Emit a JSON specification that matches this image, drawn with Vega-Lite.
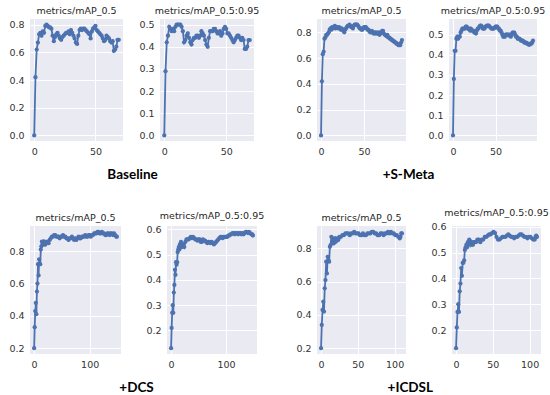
{
  "$schema": "https://vega.github.io/schema/vega-lite/v6.json",
  "background": "white",
  "padding": {"left": 5, "top": 5, "right": 5, "bottom": 1},
  "config": {
    "view": {"fill": "#EAEAF2", "stroke": null},
    "axis": {"domain": false, "ticks": false, "gridColor": "white", "gridWidth": 1, "labelFont": "DejaVu Sans", "labelFontSize": 9.5, "labelColor": "#333333", "title": null},
    "axisX": {"labelPadding": 5},
    "axisY": {"labelPadding": 6},
    "title": {"font": "DejaVu Sans", "fontSize": 9.5, "fontWeight": "normal", "color": "#262626", "offset": 4}
  },
  "datasets": {
    "b50": [{"epoch":0,"v":0.0},{"epoch":1,"v":0.42},{"epoch":2,"v":0.62},{"epoch":3,"v":0.67},{"epoch":4,"v":0.73},{"epoch":5,"v":0.74},{"epoch":6,"v":0.72},{"epoch":7,"v":0.75},{"epoch":8,"v":0.74},{"epoch":9,"v":0.79},{"epoch":10,"v":0.8},{"epoch":11,"v":0.79},{"epoch":12,"v":0.78},{"epoch":13,"v":0.78},{"epoch":14,"v":0.77},{"epoch":15,"v":0.72},{"epoch":16,"v":0.68},{"epoch":17,"v":0.71},{"epoch":18,"v":0.73},{"epoch":19,"v":0.74},{"epoch":20,"v":0.72},{"epoch":21,"v":0.7},{"epoch":22,"v":0.69},{"epoch":23,"v":0.71},{"epoch":24,"v":0.72},{"epoch":25,"v":0.73},{"epoch":26,"v":0.74},{"epoch":27,"v":0.74},{"epoch":28,"v":0.75},{"epoch":29,"v":0.73},{"epoch":30,"v":0.76},{"epoch":31,"v":0.74},{"epoch":32,"v":0.72},{"epoch":33,"v":0.7},{"epoch":34,"v":0.67},{"epoch":35,"v":0.66},{"epoch":36,"v":0.72},{"epoch":37,"v":0.76},{"epoch":38,"v":0.77},{"epoch":39,"v":0.76},{"epoch":40,"v":0.77},{"epoch":41,"v":0.77},{"epoch":42,"v":0.76},{"epoch":43,"v":0.75},{"epoch":44,"v":0.74},{"epoch":45,"v":0.73},{"epoch":46,"v":0.7},{"epoch":47,"v":0.75},{"epoch":48,"v":0.77},{"epoch":49,"v":0.78},{"epoch":50,"v":0.79},{"epoch":51,"v":0.76},{"epoch":52,"v":0.75},{"epoch":53,"v":0.74},{"epoch":54,"v":0.73},{"epoch":55,"v":0.72},{"epoch":56,"v":0.7},{"epoch":57,"v":0.68},{"epoch":58,"v":0.69},{"epoch":59,"v":0.72},{"epoch":60,"v":0.71},{"epoch":61,"v":0.7},{"epoch":62,"v":0.68},{"epoch":63,"v":0.67},{"epoch":64,"v":0.68},{"epoch":65,"v":0.61},{"epoch":66,"v":0.62},{"epoch":67,"v":0.64},{"epoch":68,"v":0.69},{"epoch":69,"v":0.69}],
    "b95": [{"epoch":0,"v":0.0},{"epoch":1,"v":0.29},{"epoch":2,"v":0.42},{"epoch":3,"v":0.45},{"epoch":4,"v":0.49},{"epoch":5,"v":0.48},{"epoch":6,"v":0.47},{"epoch":7,"v":0.48},{"epoch":8,"v":0.47},{"epoch":9,"v":0.49},{"epoch":10,"v":0.5},{"epoch":11,"v":0.5},{"epoch":12,"v":0.5},{"epoch":13,"v":0.5},{"epoch":14,"v":0.49},{"epoch":15,"v":0.47},{"epoch":16,"v":0.42},{"epoch":17,"v":0.43},{"epoch":18,"v":0.45},{"epoch":19,"v":0.46},{"epoch":20,"v":0.44},{"epoch":21,"v":0.42},{"epoch":22,"v":0.41},{"epoch":23,"v":0.43},{"epoch":24,"v":0.44},{"epoch":25,"v":0.44},{"epoch":26,"v":0.45},{"epoch":27,"v":0.45},{"epoch":28,"v":0.44},{"epoch":29,"v":0.45},{"epoch":30,"v":0.47},{"epoch":31,"v":0.46},{"epoch":32,"v":0.45},{"epoch":33,"v":0.43},{"epoch":34,"v":0.41},{"epoch":35,"v":0.4},{"epoch":36,"v":0.44},{"epoch":37,"v":0.47},{"epoch":38,"v":0.47},{"epoch":39,"v":0.47},{"epoch":40,"v":0.48},{"epoch":41,"v":0.48},{"epoch":42,"v":0.47},{"epoch":43,"v":0.46},{"epoch":44,"v":0.46},{"epoch":45,"v":0.47},{"epoch":46,"v":0.45},{"epoch":47,"v":0.46},{"epoch":48,"v":0.48},{"epoch":49,"v":0.49},{"epoch":50,"v":0.48},{"epoch":51,"v":0.46},{"epoch":52,"v":0.46},{"epoch":53,"v":0.45},{"epoch":54,"v":0.44},{"epoch":55,"v":0.43},{"epoch":56,"v":0.42},{"epoch":57,"v":0.43},{"epoch":58,"v":0.44},{"epoch":59,"v":0.45},{"epoch":60,"v":0.45},{"epoch":61,"v":0.44},{"epoch":62,"v":0.43},{"epoch":63,"v":0.44},{"epoch":64,"v":0.43},{"epoch":65,"v":0.39},{"epoch":66,"v":0.39},{"epoch":67,"v":0.4},{"epoch":68,"v":0.43},{"epoch":69,"v":0.43}],
    "s50": [{"epoch":0,"v":0.0},{"epoch":1,"v":0.42},{"epoch":2,"v":0.63},{"epoch":3,"v":0.65},{"epoch":4,"v":0.75},{"epoch":5,"v":0.76},{"epoch":6,"v":0.78},{"epoch":7,"v":0.78},{"epoch":8,"v":0.79},{"epoch":9,"v":0.8},{"epoch":10,"v":0.82},{"epoch":11,"v":0.83},{"epoch":12,"v":0.82},{"epoch":13,"v":0.84},{"epoch":14,"v":0.83},{"epoch":15,"v":0.84},{"epoch":16,"v":0.85},{"epoch":17,"v":0.83},{"epoch":18,"v":0.84},{"epoch":19,"v":0.84},{"epoch":20,"v":0.83},{"epoch":21,"v":0.84},{"epoch":22,"v":0.83},{"epoch":23,"v":0.82},{"epoch":24,"v":0.83},{"epoch":25,"v":0.82},{"epoch":26,"v":0.81},{"epoch":27,"v":0.8},{"epoch":28,"v":0.82},{"epoch":29,"v":0.83},{"epoch":30,"v":0.84},{"epoch":31,"v":0.85},{"epoch":32,"v":0.85},{"epoch":33,"v":0.86},{"epoch":34,"v":0.85},{"epoch":35,"v":0.84},{"epoch":36,"v":0.84},{"epoch":37,"v":0.83},{"epoch":38,"v":0.85},{"epoch":39,"v":0.86},{"epoch":40,"v":0.86},{"epoch":41,"v":0.86},{"epoch":42,"v":0.86},{"epoch":43,"v":0.85},{"epoch":44,"v":0.84},{"epoch":45,"v":0.83},{"epoch":46,"v":0.83},{"epoch":47,"v":0.82},{"epoch":48,"v":0.82},{"epoch":49,"v":0.83},{"epoch":50,"v":0.84},{"epoch":51,"v":0.84},{"epoch":52,"v":0.84},{"epoch":53,"v":0.83},{"epoch":54,"v":0.82},{"epoch":55,"v":0.82},{"epoch":56,"v":0.81},{"epoch":57,"v":0.8},{"epoch":58,"v":0.8},{"epoch":59,"v":0.81},{"epoch":60,"v":0.8},{"epoch":61,"v":0.79},{"epoch":62,"v":0.8},{"epoch":63,"v":0.79},{"epoch":64,"v":0.8},{"epoch":65,"v":0.79},{"epoch":66,"v":0.79},{"epoch":67,"v":0.8},{"epoch":68,"v":0.78},{"epoch":69,"v":0.79},{"epoch":70,"v":0.8},{"epoch":71,"v":0.81},{"epoch":72,"v":0.81},{"epoch":73,"v":0.79},{"epoch":74,"v":0.78},{"epoch":75,"v":0.78},{"epoch":76,"v":0.77},{"epoch":77,"v":0.78},{"epoch":78,"v":0.76},{"epoch":79,"v":0.76},{"epoch":80,"v":0.75},{"epoch":81,"v":0.75},{"epoch":82,"v":0.74},{"epoch":83,"v":0.74},{"epoch":84,"v":0.73},{"epoch":85,"v":0.73},{"epoch":86,"v":0.72},{"epoch":87,"v":0.72},{"epoch":88,"v":0.71},{"epoch":89,"v":0.71},{"epoch":90,"v":0.7},{"epoch":91,"v":0.7},{"epoch":92,"v":0.7},{"epoch":93,"v":0.72},{"epoch":94,"v":0.74}],
    "s95": [{"epoch":0,"v":0.0},{"epoch":1,"v":0.28},{"epoch":2,"v":0.42},{"epoch":3,"v":0.42},{"epoch":4,"v":0.48},{"epoch":5,"v":0.49},{"epoch":6,"v":0.48},{"epoch":7,"v":0.49},{"epoch":8,"v":0.49},{"epoch":9,"v":0.51},{"epoch":10,"v":0.52},{"epoch":11,"v":0.53},{"epoch":12,"v":0.53},{"epoch":13,"v":0.53},{"epoch":14,"v":0.53},{"epoch":15,"v":0.54},{"epoch":16,"v":0.54},{"epoch":17,"v":0.53},{"epoch":18,"v":0.53},{"epoch":19,"v":0.53},{"epoch":20,"v":0.52},{"epoch":21,"v":0.53},{"epoch":22,"v":0.52},{"epoch":23,"v":0.52},{"epoch":24,"v":0.52},{"epoch":25,"v":0.51},{"epoch":26,"v":0.51},{"epoch":27,"v":0.505},{"epoch":28,"v":0.52},{"epoch":29,"v":0.53},{"epoch":30,"v":0.53},{"epoch":31,"v":0.54},{"epoch":32,"v":0.545},{"epoch":33,"v":0.545},{"epoch":34,"v":0.54},{"epoch":35,"v":0.53},{"epoch":36,"v":0.53},{"epoch":37,"v":0.53},{"epoch":38,"v":0.54},{"epoch":39,"v":0.54},{"epoch":40,"v":0.545},{"epoch":41,"v":0.545},{"epoch":42,"v":0.545},{"epoch":43,"v":0.54},{"epoch":44,"v":0.535},{"epoch":45,"v":0.53},{"epoch":46,"v":0.53},{"epoch":47,"v":0.53},{"epoch":48,"v":0.53},{"epoch":49,"v":0.535},{"epoch":50,"v":0.54},{"epoch":51,"v":0.54},{"epoch":52,"v":0.54},{"epoch":53,"v":0.53},{"epoch":54,"v":0.53},{"epoch":55,"v":0.52},{"epoch":56,"v":0.52},{"epoch":57,"v":0.51},{"epoch":58,"v":0.5},{"epoch":59,"v":0.49},{"epoch":60,"v":0.49},{"epoch":61,"v":0.49},{"epoch":62,"v":0.5},{"epoch":63,"v":0.5},{"epoch":64,"v":0.5},{"epoch":65,"v":0.5},{"epoch":66,"v":0.495},{"epoch":67,"v":0.5},{"epoch":68,"v":0.49},{"epoch":69,"v":0.5},{"epoch":70,"v":0.51},{"epoch":71,"v":0.51},{"epoch":72,"v":0.51},{"epoch":73,"v":0.5},{"epoch":74,"v":0.49},{"epoch":75,"v":0.49},{"epoch":76,"v":0.48},{"epoch":77,"v":0.48},{"epoch":78,"v":0.48},{"epoch":79,"v":0.475},{"epoch":80,"v":0.47},{"epoch":81,"v":0.47},{"epoch":82,"v":0.47},{"epoch":83,"v":0.465},{"epoch":84,"v":0.46},{"epoch":85,"v":0.46},{"epoch":86,"v":0.46},{"epoch":87,"v":0.455},{"epoch":88,"v":0.455},{"epoch":89,"v":0.45},{"epoch":90,"v":0.45},{"epoch":91,"v":0.455},{"epoch":92,"v":0.455},{"epoch":93,"v":0.46},{"epoch":94,"v":0.47}],
    "d50": [{"epoch":0,"v":0.2},{"epoch":1,"v":0.33},{"epoch":2,"v":0.43},{"epoch":3,"v":0.48},{"epoch":4,"v":0.41},{"epoch":5,"v":0.55},{"epoch":6,"v":0.6},{"epoch":7,"v":0.72},{"epoch":8,"v":0.65},{"epoch":9,"v":0.75},{"epoch":10,"v":0.72},{"epoch":11,"v":0.72},{"epoch":12,"v":0.81},{"epoch":13,"v":0.83},{"epoch":14,"v":0.86},{"epoch":15,"v":0.84},{"epoch":16,"v":0.85},{"epoch":17,"v":0.86},{"epoch":18,"v":0.85},{"epoch":19,"v":0.86},{"epoch":20,"v":0.84},{"epoch":22,"v":0.85},{"epoch":24,"v":0.86},{"epoch":26,"v":0.85},{"epoch":28,"v":0.87},{"epoch":30,"v":0.88},{"epoch":32,"v":0.89},{"epoch":34,"v":0.89},{"epoch":36,"v":0.9},{"epoch":38,"v":0.9},{"epoch":40,"v":0.89},{"epoch":42,"v":0.89},{"epoch":44,"v":0.89},{"epoch":46,"v":0.88},{"epoch":48,"v":0.89},{"epoch":50,"v":0.89},{"epoch":52,"v":0.9},{"epoch":54,"v":0.89},{"epoch":56,"v":0.89},{"epoch":58,"v":0.88},{"epoch":60,"v":0.88},{"epoch":62,"v":0.87},{"epoch":64,"v":0.88},{"epoch":66,"v":0.88},{"epoch":68,"v":0.89},{"epoch":70,"v":0.88},{"epoch":72,"v":0.87},{"epoch":74,"v":0.88},{"epoch":76,"v":0.87},{"epoch":78,"v":0.88},{"epoch":80,"v":0.89},{"epoch":82,"v":0.88},{"epoch":84,"v":0.88},{"epoch":86,"v":0.89},{"epoch":88,"v":0.89},{"epoch":90,"v":0.89},{"epoch":92,"v":0.9},{"epoch":94,"v":0.89},{"epoch":96,"v":0.89},{"epoch":98,"v":0.9},{"epoch":100,"v":0.9},{"epoch":102,"v":0.89},{"epoch":104,"v":0.9},{"epoch":106,"v":0.9},{"epoch":108,"v":0.91},{"epoch":110,"v":0.91},{"epoch":112,"v":0.91},{"epoch":114,"v":0.92},{"epoch":116,"v":0.92},{"epoch":118,"v":0.91},{"epoch":120,"v":0.91},{"epoch":122,"v":0.92},{"epoch":124,"v":0.91},{"epoch":126,"v":0.91},{"epoch":128,"v":0.9},{"epoch":130,"v":0.9},{"epoch":132,"v":0.91},{"epoch":134,"v":0.91},{"epoch":136,"v":0.9},{"epoch":138,"v":0.91},{"epoch":140,"v":0.91},{"epoch":142,"v":0.9},{"epoch":144,"v":0.91},{"epoch":146,"v":0.9},{"epoch":148,"v":0.89},{"epoch":149,"v":0.89}],
    "d95": [{"epoch":0,"v":0.13},{"epoch":1,"v":0.21},{"epoch":2,"v":0.27},{"epoch":3,"v":0.3},{"epoch":4,"v":0.27},{"epoch":5,"v":0.35},{"epoch":6,"v":0.38},{"epoch":7,"v":0.44},{"epoch":8,"v":0.42},{"epoch":9,"v":0.47},{"epoch":10,"v":0.46},{"epoch":11,"v":0.47},{"epoch":12,"v":0.51},{"epoch":13,"v":0.52},{"epoch":14,"v":0.53},{"epoch":15,"v":0.52},{"epoch":16,"v":0.54},{"epoch":17,"v":0.53},{"epoch":18,"v":0.55},{"epoch":19,"v":0.54},{"epoch":20,"v":0.53},{"epoch":22,"v":0.54},{"epoch":24,"v":0.53},{"epoch":26,"v":0.55},{"epoch":28,"v":0.56},{"epoch":30,"v":0.56},{"epoch":32,"v":0.56},{"epoch":34,"v":0.565},{"epoch":36,"v":0.57},{"epoch":38,"v":0.565},{"epoch":40,"v":0.57},{"epoch":42,"v":0.565},{"epoch":44,"v":0.56},{"epoch":46,"v":0.56},{"epoch":48,"v":0.555},{"epoch":50,"v":0.56},{"epoch":52,"v":0.56},{"epoch":54,"v":0.55},{"epoch":56,"v":0.55},{"epoch":58,"v":0.56},{"epoch":60,"v":0.555},{"epoch":62,"v":0.555},{"epoch":64,"v":0.55},{"epoch":66,"v":0.545},{"epoch":68,"v":0.55},{"epoch":70,"v":0.55},{"epoch":72,"v":0.545},{"epoch":74,"v":0.55},{"epoch":76,"v":0.545},{"epoch":78,"v":0.54},{"epoch":80,"v":0.545},{"epoch":82,"v":0.55},{"epoch":84,"v":0.555},{"epoch":86,"v":0.56},{"epoch":88,"v":0.565},{"epoch":90,"v":0.57},{"epoch":92,"v":0.57},{"epoch":94,"v":0.565},{"epoch":96,"v":0.57},{"epoch":98,"v":0.57},{"epoch":100,"v":0.57},{"epoch":102,"v":0.57},{"epoch":104,"v":0.575},{"epoch":106,"v":0.575},{"epoch":108,"v":0.58},{"epoch":110,"v":0.58},{"epoch":112,"v":0.585},{"epoch":114,"v":0.585},{"epoch":116,"v":0.58},{"epoch":118,"v":0.585},{"epoch":120,"v":0.585},{"epoch":122,"v":0.58},{"epoch":124,"v":0.585},{"epoch":126,"v":0.585},{"epoch":128,"v":0.58},{"epoch":130,"v":0.585},{"epoch":132,"v":0.58},{"epoch":134,"v":0.585},{"epoch":136,"v":0.59},{"epoch":138,"v":0.59},{"epoch":140,"v":0.585},{"epoch":142,"v":0.59},{"epoch":144,"v":0.585},{"epoch":146,"v":0.58},{"epoch":148,"v":0.58},{"epoch":149,"v":0.575}],
    "i50": [{"epoch":0,"v":0.2},{"epoch":1,"v":0.34},{"epoch":2,"v":0.43},{"epoch":3,"v":0.48},{"epoch":4,"v":0.42},{"epoch":5,"v":0.56},{"epoch":6,"v":0.61},{"epoch":7,"v":0.72},{"epoch":8,"v":0.65},{"epoch":9,"v":0.75},{"epoch":10,"v":0.73},{"epoch":11,"v":0.72},{"epoch":12,"v":0.81},{"epoch":13,"v":0.82},{"epoch":14,"v":0.87},{"epoch":15,"v":0.84},{"epoch":16,"v":0.86},{"epoch":17,"v":0.83},{"epoch":18,"v":0.85},{"epoch":19,"v":0.86},{"epoch":20,"v":0.84},{"epoch":21,"v":0.85},{"epoch":22,"v":0.86},{"epoch":23,"v":0.85},{"epoch":24,"v":0.86},{"epoch":25,"v":0.87},{"epoch":27,"v":0.87},{"epoch":29,"v":0.88},{"epoch":31,"v":0.88},{"epoch":33,"v":0.89},{"epoch":35,"v":0.89},{"epoch":37,"v":0.89},{"epoch":39,"v":0.88},{"epoch":41,"v":0.89},{"epoch":43,"v":0.89},{"epoch":45,"v":0.9},{"epoch":47,"v":0.89},{"epoch":49,"v":0.89},{"epoch":51,"v":0.89},{"epoch":53,"v":0.88},{"epoch":55,"v":0.88},{"epoch":57,"v":0.89},{"epoch":59,"v":0.88},{"epoch":61,"v":0.88},{"epoch":63,"v":0.89},{"epoch":65,"v":0.89},{"epoch":67,"v":0.89},{"epoch":69,"v":0.9},{"epoch":71,"v":0.9},{"epoch":73,"v":0.89},{"epoch":75,"v":0.89},{"epoch":77,"v":0.88},{"epoch":79,"v":0.88},{"epoch":81,"v":0.89},{"epoch":83,"v":0.89},{"epoch":85,"v":0.88},{"epoch":87,"v":0.89},{"epoch":89,"v":0.89},{"epoch":91,"v":0.9},{"epoch":93,"v":0.89},{"epoch":95,"v":0.9},{"epoch":97,"v":0.89},{"epoch":99,"v":0.89},{"epoch":101,"v":0.88},{"epoch":103,"v":0.88},{"epoch":105,"v":0.87},{"epoch":107,"v":0.86},{"epoch":108,"v":0.87},{"epoch":109,"v":0.89},{"epoch":110,"v":0.89}],
    "i95": [{"epoch":0,"v":0.13},{"epoch":1,"v":0.21},{"epoch":2,"v":0.27},{"epoch":3,"v":0.3},{"epoch":4,"v":0.27},{"epoch":5,"v":0.35},{"epoch":6,"v":0.38},{"epoch":7,"v":0.44},{"epoch":8,"v":0.41},{"epoch":9,"v":0.46},{"epoch":10,"v":0.46},{"epoch":11,"v":0.47},{"epoch":12,"v":0.51},{"epoch":13,"v":0.52},{"epoch":14,"v":0.53},{"epoch":15,"v":0.52},{"epoch":16,"v":0.54},{"epoch":17,"v":0.53},{"epoch":18,"v":0.55},{"epoch":19,"v":0.54},{"epoch":20,"v":0.53},{"epoch":21,"v":0.54},{"epoch":22,"v":0.53},{"epoch":23,"v":0.53},{"epoch":24,"v":0.54},{"epoch":25,"v":0.54},{"epoch":27,"v":0.54},{"epoch":29,"v":0.55},{"epoch":31,"v":0.55},{"epoch":33,"v":0.54},{"epoch":35,"v":0.55},{"epoch":37,"v":0.55},{"epoch":39,"v":0.56},{"epoch":41,"v":0.56},{"epoch":43,"v":0.565},{"epoch":45,"v":0.57},{"epoch":47,"v":0.57},{"epoch":49,"v":0.575},{"epoch":51,"v":0.58},{"epoch":53,"v":0.575},{"epoch":55,"v":0.56},{"epoch":57,"v":0.55},{"epoch":59,"v":0.55},{"epoch":61,"v":0.555},{"epoch":63,"v":0.56},{"epoch":65,"v":0.56},{"epoch":67,"v":0.56},{"epoch":69,"v":0.565},{"epoch":71,"v":0.57},{"epoch":73,"v":0.565},{"epoch":75,"v":0.56},{"epoch":77,"v":0.56},{"epoch":79,"v":0.555},{"epoch":81,"v":0.56},{"epoch":83,"v":0.56},{"epoch":85,"v":0.565},{"epoch":87,"v":0.57},{"epoch":89,"v":0.57},{"epoch":91,"v":0.565},{"epoch":93,"v":0.56},{"epoch":95,"v":0.56},{"epoch":97,"v":0.555},{"epoch":99,"v":0.56},{"epoch":101,"v":0.56},{"epoch":103,"v":0.555},{"epoch":105,"v":0.55},{"epoch":107,"v":0.55},{"epoch":108,"v":0.56},{"epoch":109,"v":0.565},{"epoch":110,"v":0.56}]
  },
  "vconcat": [
    {
      "hconcat": [
        {
          "title": {"text": "Baseline", "orient": "bottom", "anchor": "middle", "font": "Lato", "fontSize": 13.5, "fontWeight": "bold", "color": "black", "offset": 12},
          "bounds": "flush",
          "spacing": 37,
          "hconcat": [
            {"width": 93, "height": 122, "title": "metrics/mAP_0.5", "data": {"name": "b50"},
             "mark": {"type": "line", "color": "#4C72B0", "strokeWidth": 1.8, "point": {"filled": true, "size": 18, "color": "#4C72B0"}},
             "encoding": {
               "x": {"field": "epoch", "type": "quantitative", "scale": {"domain": [-3.45, 72.45], "nice": false, "zero": false}, "axis": {"values": [0, 50]}},
               "y": {"field": "v", "type": "quantitative", "scale": {"domain": [-0.04, 0.84], "nice": false, "zero": false}, "axis": {"values": [0, 0.2, 0.4, 0.6, 0.8], "format": ".1f", "title": " ", "titleFontSize": 3, "titlePadding": 0}}}},
            {"width": 94, "height": 122, "title": "metrics/mAP_0.5:0.95", "data": {"name": "b95"},
             "mark": {"type": "line", "color": "#4C72B0", "strokeWidth": 1.8, "point": {"filled": true, "size": 18, "color": "#4C72B0"}},
             "encoding": {
               "x": {"field": "epoch", "type": "quantitative", "scale": {"domain": [-3.45, 72.45], "nice": false, "zero": false}, "axis": {"values": [0, 50]}},
               "y": {"field": "v", "type": "quantitative", "scale": {"domain": [-0.025, 0.525], "nice": false, "zero": false}, "axis": {"values": [0, 0.1, 0.2, 0.3, 0.4, 0.5], "format": ".1f"}}}}
          ]
        },
        {
          "title": {"text": "+S-Meta", "orient": "bottom", "anchor": "middle", "font": "Lato", "fontSize": 13.5, "fontWeight": "bold", "color": "black", "offset": 12, "dx": -12},
          "bounds": "flush",
          "spacing": 43,
          "hconcat": [
            {"width": 89, "height": 122, "title": "metrics/mAP_0.5", "data": {"name": "s50"},
             "mark": {"type": "line", "color": "#4C72B0", "strokeWidth": 1.8, "point": {"filled": true, "size": 18, "color": "#4C72B0"}},
             "encoding": {
               "x": {"field": "epoch", "type": "quantitative", "scale": {"domain": [-4.7, 98.7], "nice": false, "zero": false}, "axis": {"values": [0, 50]}},
               "y": {"field": "v", "type": "quantitative", "scale": {"domain": [-0.043, 0.903], "nice": false, "zero": false}, "axis": {"values": [0, 0.2, 0.4, 0.6, 0.8], "format": ".1f"}}}},
            {"width": 88, "height": 122, "title": "metrics/mAP_0.5:0.95", "data": {"name": "s95"},
             "mark": {"type": "line", "color": "#4C72B0", "strokeWidth": 1.8, "point": {"filled": true, "size": 18, "color": "#4C72B0"}},
             "encoding": {
               "x": {"field": "epoch", "type": "quantitative", "scale": {"domain": [-4.7, 98.7], "nice": false, "zero": false}, "axis": {"values": [0, 50]}},
               "y": {"field": "v", "type": "quantitative", "scale": {"domain": [-0.0275, 0.5775], "nice": false, "zero": false}, "axis": {"values": [0, 0.1, 0.2, 0.3, 0.4, 0.5], "format": ".1f"}}}}
          ]
        }
      ],
      "spacing": 35
    },
    {
      "hconcat": [
        {
          "title": {"text": "+DCS", "orient": "bottom", "anchor": "middle", "font": "Lato", "fontSize": 13.5, "fontWeight": "bold", "color": "black", "offset": 12},
          "bounds": "flush",
          "spacing": 46,
          "hconcat": [
            {"width": 91, "height": 128, "title": "metrics/mAP_0.5", "data": {"name": "d50"},
             "mark": {"type": "line", "color": "#4C72B0", "strokeWidth": 1.8, "point": {"filled": true, "size": 18, "color": "#4C72B0"}},
             "encoding": {
               "x": {"field": "epoch", "type": "quantitative", "scale": {"domain": [-7.45, 156.45], "nice": false, "zero": false}, "axis": {"values": [0, 100]}},
               "y": {"field": "v", "type": "quantitative", "scale": {"domain": [0.164, 0.956], "nice": false, "zero": false}, "axis": {"values": [0.2, 0.4, 0.6, 0.8], "format": ".1f"}}}},
            {"width": 90, "height": 128, "title": "metrics/mAP_0.5:0.95", "data": {"name": "d95"},
             "mark": {"type": "line", "color": "#4C72B0", "strokeWidth": 1.8, "point": {"filled": true, "size": 18, "color": "#4C72B0"}},
             "encoding": {
               "x": {"field": "epoch", "type": "quantitative", "scale": {"domain": [-7.45, 156.45], "nice": false, "zero": false}, "axis": {"values": [0, 100]}},
               "y": {"field": "v", "type": "quantitative", "scale": {"domain": [0.107, 0.613], "nice": false, "zero": false}, "axis": {"values": [0.2, 0.3, 0.4, 0.5, 0.6], "format": ".1f"}}}}
          ]
        },
        {
          "title": {"text": "+ICDSL", "orient": "bottom", "anchor": "middle", "font": "Lato", "fontSize": 13.5, "fontWeight": "bold", "color": "black", "offset": 12, "dx": -12},
          "bounds": "flush",
          "spacing": 46,
          "hconcat": [
            {"width": 89, "height": 128, "title": "metrics/mAP_0.5", "data": {"name": "i50"},
             "mark": {"type": "line", "color": "#4C72B0", "strokeWidth": 1.8, "point": {"filled": true, "size": 18, "color": "#4C72B0"}},
             "encoding": {
               "x": {"field": "epoch", "type": "quantitative", "scale": {"domain": [-5.5, 115.5], "nice": false, "zero": false}, "axis": {"values": [0, 50, 100]}},
               "y": {"field": "v", "type": "quantitative", "scale": {"domain": [0.165, 0.935], "nice": false, "zero": false}, "axis": {"values": [0.2, 0.4, 0.6, 0.8], "format": ".1f"}}}},
            {"width": 89, "height": 128, "title": "metrics/mAP_0.5:0.95", "data": {"name": "i95"},
             "mark": {"type": "line", "color": "#4C72B0", "strokeWidth": 1.8, "point": {"filled": true, "size": 18, "color": "#4C72B0"}},
             "encoding": {
               "x": {"field": "epoch", "type": "quantitative", "scale": {"domain": [-5.5, 115.5], "nice": false, "zero": false}, "axis": {"values": [0, 50, 100]}},
               "y": {"field": "v", "type": "quantitative", "scale": {"domain": [0.1075, 0.6025], "nice": false, "zero": false}, "axis": {"values": [0.2, 0.3, 0.4, 0.5, 0.6], "format": ".1f"}}}}
          ]
        }
      ],
      "spacing": 30
    }
  ],
  "spacing": 27
}
